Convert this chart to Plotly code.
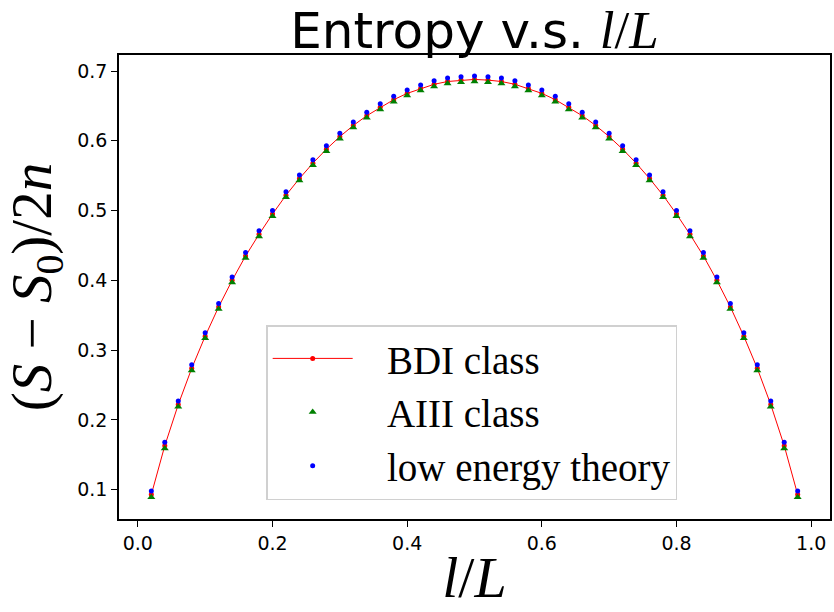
import plotly.graph_objects as go

x_vals = [0.02, 0.04, 0.06, 0.08, 0.10, 0.12, 0.14, 0.16, 0.18, 0.20,
          0.22, 0.24, 0.26, 0.28, 0.30, 0.32, 0.34, 0.36, 0.38, 0.40,
          0.42, 0.44, 0.46, 0.48, 0.50, 0.52, 0.54, 0.56, 0.58, 0.60,
          0.62, 0.64, 0.66, 0.68, 0.70, 0.72, 0.74, 0.76, 0.78, 0.80,
          0.82, 0.84, 0.86, 0.88, 0.90, 0.92, 0.94, 0.96, 0.98]

bdi_vals = [0.093, 0.163, 0.222, 0.274, 0.320, 0.362, 0.400, 0.435, 0.466, 0.495,
            0.522, 0.546, 0.568, 0.588, 0.606, 0.622, 0.636, 0.648, 0.659, 0.668,
            0.675, 0.681, 0.685, 0.687, 0.688, 0.687, 0.685, 0.681, 0.675, 0.668,
            0.659, 0.648, 0.636, 0.622, 0.606, 0.588, 0.568, 0.546, 0.522, 0.495,
            0.466, 0.435, 0.400, 0.362, 0.320, 0.274, 0.222, 0.163, 0.093]

aiii_vals = [0.089, 0.159, 0.219, 0.271, 0.317, 0.359, 0.397, 0.432, 0.463, 0.492,
             0.519, 0.543, 0.565, 0.585, 0.603, 0.619, 0.633, 0.645, 0.656, 0.665,
             0.672, 0.678, 0.682, 0.684, 0.685, 0.684, 0.682, 0.678, 0.672, 0.665,
             0.656, 0.645, 0.633, 0.619, 0.603, 0.585, 0.565, 0.543, 0.519, 0.492,
             0.463, 0.432, 0.397, 0.359, 0.317, 0.271, 0.219, 0.159, 0.089]

low_energy_vals = [0.098, 0.168, 0.227, 0.279, 0.325, 0.367, 0.405, 0.440, 0.471, 0.500,
                   0.527, 0.551, 0.573, 0.593, 0.611, 0.627, 0.641, 0.653, 0.664, 0.673,
                   0.680, 0.686, 0.690, 0.692, 0.693, 0.692, 0.690, 0.686, 0.680, 0.673,
                   0.664, 0.653, 0.641, 0.627, 0.611, 0.593, 0.573, 0.551, 0.527, 0.500,
                   0.471, 0.440, 0.405, 0.367, 0.325, 0.279, 0.227, 0.168, 0.098]

x_ticks = [0.0, 0.2, 0.4, 0.6, 0.8, 1.0]
y_ticks = [0.1, 0.2, 0.3, 0.4, 0.5, 0.6, 0.7]

series_names = ["BDI class", "AIII class", "low energy theory"]

pad = "\u00a0\u00a0\u00a0"

fig = go.Figure()
fig.add_trace(go.Scatter(
    x=x_vals, y=bdi_vals, name=pad + series_names[0], mode="lines+markers",
    line=dict(color="red", width=1),
    marker=dict(color="red", size=5, symbol="circle"),
))
fig.add_trace(go.Scatter(
    x=x_vals, y=aiii_vals, name=pad + series_names[1], mode="markers",
    marker=dict(color="green", size=7, symbol="triangle-up"),
))
fig.add_trace(go.Scatter(
    x=x_vals, y=low_energy_vals, name=pad + series_names[2], mode="markers",
    marker=dict(color="blue", size=5, symbol="circle"),
))

serif = "Liberation Serif, Times New Roman, serif"
axis_common = dict(
    showline=True, linecolor="black", linewidth=1.5, mirror=True,
    ticks="outside", ticklen=6, tickwidth=1.2, tickcolor="black",
    showgrid=False, zeroline=False,
    tickfont=dict(family="DejaVu Sans", size=19, color="black"),
)

fig.update_layout(
    width=834, height=612,
    paper_bgcolor="white", plot_bgcolor="white",
    margin=dict(l=119, r=2, t=55, b=93),
    title=dict(
        text='Entropy v.s. <span style="font-family:Liberation Serif;font-size:53px"><i>l</i>/<i>L</i></span>',
        font=dict(family="DejaVu Sans", size=50, color="black"),
        x=0.5, xref="paper", xanchor="center", y=0.978, yanchor="top",
    ),
    xaxis=dict(
        range=[-0.028, 1.028], tickvals=x_ticks, tickformat=".1f",
        title=dict(text="<i>l</i>/<i>L</i>", font=dict(family=serif, size=58, color="black"), standoff=4),
        **axis_common,
    ),
    yaxis=dict(
        range=[0.058, 0.723], tickvals=y_ticks, tickformat=".1f",
        title=dict(text="(<i>S</i> − <i>S</i><sub>0</sub>)/2<i>n</i>",
                   font=dict(family=serif, size=57, color="black"), standoff=18),
        **axis_common,
    ),
    legend=dict(
        x=0.207, y=0.418, xanchor="left", yanchor="top",
        bgcolor="white", bordercolor="#d0d0d0", borderwidth=1.5,
        font=dict(family=serif, size=39, color="black"),
        itemwidth=80, tracegroupgap=0,
    ),
    showlegend=True,
)

fig.write_html("out.html", config={"displayModeBar": False},
               post_script="document.body.style.margin='0';document.body.style.overflow='hidden';")
